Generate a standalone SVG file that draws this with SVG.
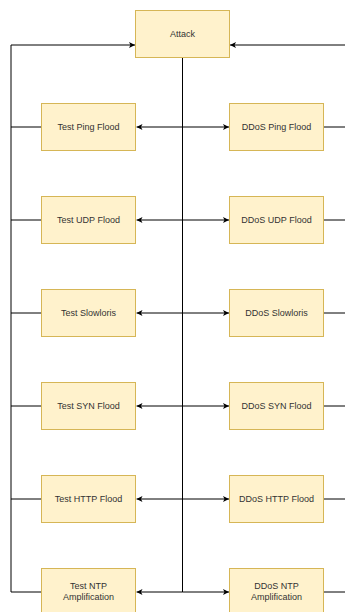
<svg xmlns="http://www.w3.org/2000/svg" width="345" height="612" viewBox="0 0 345 612">
  <style>
    .box { fill: #fff2cc; stroke: #d6b656; stroke-width: 1; }
    .lbl { font-family: "Liberation Sans", Arial, sans-serif; font-size: 9px; fill: #333333; text-anchor: middle; dominant-baseline: central; }
    .edge { fill: none; stroke: #000000; stroke-width: 1; }
  </style>
  <defs>
    <marker id="arrow" viewBox="0 0 6 6" refX="6" refY="3" markerWidth="6" markerHeight="6" markerUnits="userSpaceOnUse" orient="auto">
      <path d="M0,0 L6,3 L0,6 L1.5,3 Z" fill="#000000"/>
    </marker>
  </defs>

  <!-- connectors -->
  <g id="connectors">
    <!-- trunk from Attack down through all rows -->
    <path class="edge" d="M182.5,57 V592"/>
    <!-- left feedback rail into Attack -->
    <path class="edge" d="M11,592 V45 H135" marker-end="url(#arrow)"/>
    <!-- right feedback rail into Attack -->
    <path class="edge" d="M345,45 H230" marker-end="url(#arrow)"/>

    <!-- rows: trunk to test / ddos boxes, and boxes back to the rails -->
    <g>
      <path class="edge" d="M182.5,127 H136.5" marker-end="url(#arrow)"/>
      <path class="edge" d="M182.5,127 H229" marker-end="url(#arrow)"/>
      <path class="edge" d="M41.5,127 H11"/>
      <path class="edge" d="M323.5,127 H345"/>
    </g>
    <g>
      <path class="edge" d="M182.5,220 H136.5" marker-end="url(#arrow)"/>
      <path class="edge" d="M182.5,220 H229" marker-end="url(#arrow)"/>
      <path class="edge" d="M41.5,220 H11"/>
      <path class="edge" d="M323.5,220 H345"/>
    </g>
    <g>
      <path class="edge" d="M182.5,313 H136.5" marker-end="url(#arrow)"/>
      <path class="edge" d="M182.5,313 H229" marker-end="url(#arrow)"/>
      <path class="edge" d="M41.5,313 H11"/>
      <path class="edge" d="M323.5,313 H345"/>
    </g>
    <g>
      <path class="edge" d="M182.5,406 H136.5" marker-end="url(#arrow)"/>
      <path class="edge" d="M182.5,406 H229" marker-end="url(#arrow)"/>
      <path class="edge" d="M41.5,406 H11"/>
      <path class="edge" d="M323.5,406 H345"/>
    </g>
    <g>
      <path class="edge" d="M182.5,499 H136.5" marker-end="url(#arrow)"/>
      <path class="edge" d="M182.5,499 H229" marker-end="url(#arrow)"/>
      <path class="edge" d="M41.5,499 H11"/>
      <path class="edge" d="M323.5,499 H345"/>
    </g>
    <g>
      <path class="edge" d="M182.5,592 H136.5" marker-end="url(#arrow)"/>
      <path class="edge" d="M182.5,592 H229" marker-end="url(#arrow)"/>
      <path class="edge" d="M41.5,592 H11"/>
      <path class="edge" d="M323.5,592 H345"/>
    </g>
  </g>

  <!-- nodes -->
  <g id="attack">
    <rect class="box" x="135.5" y="10.5" width="94" height="47"/>
    <text class="lbl" x="182.5" y="34">Attack</text>
  </g>

  <g id="test-ping-flood">
    <rect class="box" x="41.5" y="103.5" width="94" height="47"/>
    <text class="lbl" x="88.5" y="127">Test Ping Flood</text>
  </g>
  <g id="ddos-ping-flood">
    <rect class="box" x="229.5" y="103.5" width="94" height="47"/>
    <text class="lbl" x="276.5" y="127">DDoS Ping Flood</text>
  </g>

  <g id="test-udp-flood">
    <rect class="box" x="41.5" y="196.5" width="94" height="47"/>
    <text class="lbl" x="88.5" y="220">Test UDP Flood</text>
  </g>
  <g id="ddos-udp-flood">
    <rect class="box" x="229.5" y="196.5" width="94" height="47"/>
    <text class="lbl" x="276.5" y="220">DDoS UDP Flood</text>
  </g>

  <g id="test-slowloris">
    <rect class="box" x="41.5" y="289.5" width="94" height="47"/>
    <text class="lbl" x="88.5" y="313">Test Slowloris</text>
  </g>
  <g id="ddos-slowloris">
    <rect class="box" x="229.5" y="289.5" width="94" height="47"/>
    <text class="lbl" x="276.5" y="313">DDoS Slowloris</text>
  </g>

  <g id="test-syn-flood">
    <rect class="box" x="41.5" y="382.5" width="94" height="47"/>
    <text class="lbl" x="88.5" y="406">Test SYN Flood</text>
  </g>
  <g id="ddos-syn-flood">
    <rect class="box" x="229.5" y="382.5" width="94" height="47"/>
    <text class="lbl" x="276.5" y="406">DDoS SYN Flood</text>
  </g>

  <g id="test-http-flood">
    <rect class="box" x="41.5" y="475.5" width="94" height="47"/>
    <text class="lbl" x="88.5" y="499">Test HTTP Flood</text>
  </g>
  <g id="ddos-http-flood">
    <rect class="box" x="229.5" y="475.5" width="94" height="47"/>
    <text class="lbl" x="276.5" y="499">DDoS HTTP Flood</text>
  </g>

  <g id="test-ntp-amplification">
    <rect class="box" x="41.5" y="568.5" width="94" height="47"/>
    <text class="lbl" x="88.5" y="586">Test NTP</text>
    <text class="lbl" x="88.5" y="597">Amplification</text>
  </g>
  <g id="ddos-ntp-amplification">
    <rect class="box" x="229.5" y="568.5" width="94" height="47"/>
    <text class="lbl" x="276.5" y="586">DDoS NTP</text>
    <text class="lbl" x="276.5" y="597">Amplification</text>
  </g>
</svg>
